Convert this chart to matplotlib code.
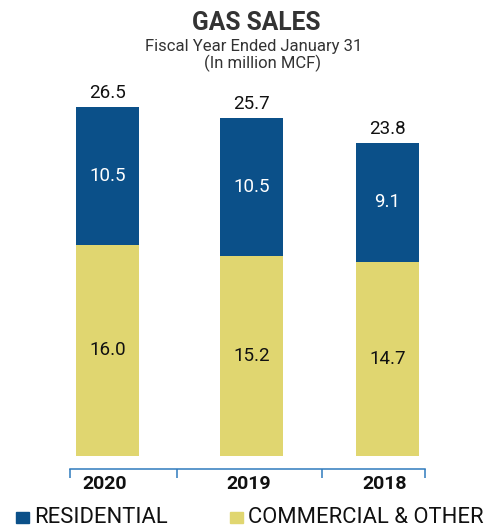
import matplotlib
matplotlib.use("Agg")
import matplotlib.pyplot as plt
from matplotlib.patches import Rectangle

plt.rcParams['font.family'] = ['Roboto', 'DejaVu Sans']

years = ["2020", "2019", "2018"]
commercial = [16.0, 15.2, 14.7]
residential = [10.5, 10.5, 9.1]
totals = [26.5, 25.7, 23.8]

BLUE = "#0b5089"
YELLOW = "#e0d670"
AXIS = "#2f7bbd"

# bar centres (category units) and group boundaries along the axis
xpos = [0.0, 1.0, 1.944]
bounds = [-0.26, 0.483, 1.49, 2.205]
width = 0.4375

fig = plt.figure(figsize=(4.87, 5.27), dpi=100)
W, H = 487, 527
ax_left, ax_right = 70, 425
ax_top, ax_bottom = 100, 469
ax = fig.add_axes([ax_left / W, (H - ax_bottom) / H,
                   (ax_right - ax_left) / W, (ax_bottom - ax_top) / H])

ax.bar(xpos, commercial, width, color=YELLOW, edgecolor="none")
ax.bar(xpos, residential, width, bottom=commercial, color=BLUE, edgecolor="none")

for x, c, r, t in zip(xpos, commercial, residential, totals):
    ax.text(x, c / 2, f"{c:.1f}", ha="center", va="center", color="#111111", fontsize=13.5)
    ax.text(x, c + r / 2, f"{r:.1f}", ha="center", va="center", color="white", fontsize=13.5)
    ax.annotate(f"{t:.1f}", (x, c + r), xytext=(0, 3.5), textcoords="offset points",
                ha="center", va="bottom", color="#111111", fontsize=13.5)

ax.set_xlim(bounds[0], bounds[-1])
ax.set_ylim(-1.01, 27.03)

for s in ("top", "left", "right"):
    ax.spines[s].set_visible(False)
ax.spines["bottom"].set_color(AXIS)
ax.spines["bottom"].set_linewidth(1.1)
ax.set_yticks([])

ax.set_xticks(bounds)
ax.set_xticklabels([])
ax.tick_params(axis="x", which="major", direction="out", length=6.5, width=1.1, color=AXIS)
ax.set_xticks([x - 0.02 for x in xpos], minor=True)
ax.set_xticklabels(years, minor=True, fontsize=14, fontweight="bold", color="#111111")
ax.tick_params(axis="x", which="minor", length=0, pad=4)

# title block
fig.text(256.5 / W, 1 - 30 / H, "GAS SALES", ha="center", va="baseline",
         fontsize=17.7, fontweight="bold", color="#333333")
fig.text(254 / W, 1 - 51 / H, "Fiscal Year Ended January 31", ha="center", va="baseline",
         fontsize=12, color="#333333")
fig.text(263 / W, 1 - 68 / H, "(In million MCF)", ha="center", va="baseline",
         fontsize=12, color="#333333")

# legend
fig.patches.append(Rectangle((16 / W, 1 - 523 / H), 13 / W, 11 / H,
                             transform=fig.transFigure, color=BLUE))
fig.text(34 / W, 1 - 523 / H, "RESIDENTIAL", ha="left", va="baseline",
         fontsize=15.8, color="#111111")
fig.patches.append(Rectangle((230 / W, 1 - 523 / H), 13 / W, 11 / H,
                             transform=fig.transFigure, color=YELLOW))
fig.text(248 / W, 1 - 523 / H, "COMMERCIAL & OTHER", ha="left", va="baseline",
         fontsize=15.8, color="#111111")

fig.savefig("out.png", dpi=100)
